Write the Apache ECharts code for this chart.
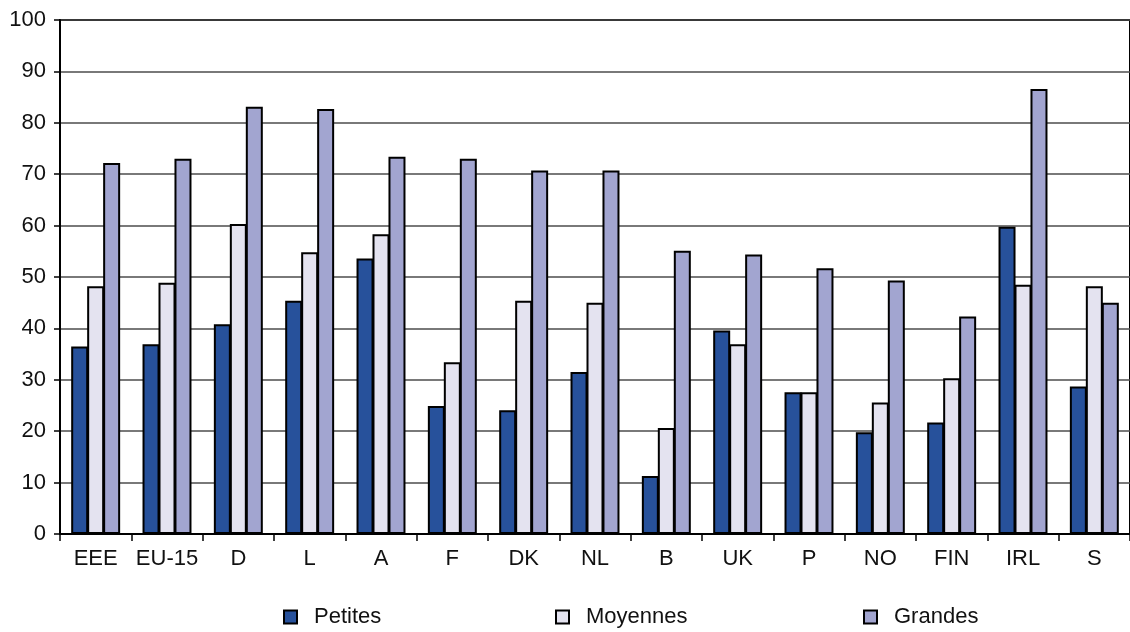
<!DOCTYPE html>
<html>
<head>
<meta charset="utf-8">
<script src="https://cdn.jsdelivr.net/npm/echarts@6/dist/echarts.min.js"></script>
<style>
  html, body { margin: 0; padding: 0; background: #fff; }
  #chart { width: 1130px; height: 632px; }
</style>
</head>
<body>
<div id="chart"></div>
<script>
// Countries / groups on the x axis
const categories = ['EEE', 'EU-15', 'D', 'L', 'A', 'F', 'DK', 'NL', 'B', 'UK', 'P', 'NO', 'FIN', 'IRL', 'S'];

// Share by enterprise size (%)
const petites  = [36.5, 36.9, 40.8, 45.4, 53.6, 24.9, 24.1, 31.5, 11.3, 39.6, 27.6, 19.8, 21.7, 59.8, 28.7];
const moyennes = [48.2, 48.9, 60.3, 54.8, 58.3, 33.4, 45.4, 45.0, 20.6, 36.9, 27.6, 25.6, 30.3, 48.5, 48.2];
const grandes  = [72.2, 73.0, 83.1, 82.7, 73.4, 73.0, 70.7, 70.7, 55.1, 54.4, 51.7, 49.3, 42.3, 86.6, 45.0];

const seriesNames = ['Petites', 'Moyennes', 'Grandes'];
const seriesColors = ['#27519b', '#e4e3f0', '#a2a5d0'];

const FONT = 'Liberation Sans, Arial, sans-serif';

const chart = echarts.init(document.getElementById('chart'), null, { renderer: 'canvas' });

function makeSeries(name, data, color) {
  return {
    name: name,
    type: 'bar',
    data: data,
    barWidth: 17,
    barGap: '-6%',
    barCategoryGap: '30%',
    itemStyle: { color: color, borderColor: '#000', borderWidth: 2 },
    emphasis: { disabled: true }
  };
}

function makeLegend(name, left) {
  return {
    data: [name],
    left: left,
    top: 606,
    padding: 0,
    itemWidth: 13,
    itemHeight: 13,
    icon: 'rect',
    selectedMode: false,
    textStyle: { fontFamily: FONT, fontSize: 22, color: '#111', padding: [0, 0, 0, 12] }
  };
}

chart.setOption({
  animation: false,
  backgroundColor: '#fff',
  grid: {
    left: 60, right: -4, top: 20, bottom: 98,
    show: true, borderColor: '#000', borderWidth: 2, backgroundColor: 'transparent'
  },
  legend: [
    makeLegend('Petites', 283),
    makeLegend('Moyennes', 555),
    makeLegend('Grandes', 863)
  ],
  xAxis: {
    type: 'category',
    data: categories,
    axisLine: { lineStyle: { color: '#000', width: 2 } },
    axisTick: { show: true, interval: 0, length: 7, lineStyle: { color: '#000', width: 1.5 } },
    axisLabel: { interval: 0, fontFamily: FONT, fontSize: 22, color: '#111', margin: 14 }
  },
  yAxis: {
    type: 'value',
    min: 0, max: 100, interval: 10,
    axisLine: { show: true, lineStyle: { color: '#000', width: 2 } },
    axisTick: { show: true, length: 6, lineStyle: { color: '#000', width: 1.5 } },
    axisLabel: { fontFamily: FONT, fontSize: 22, color: '#111', margin: 14 },
    splitLine: { show: true, lineStyle: { color: '#4d4d4d', width: 1.5 } }
  },
  series: [
    makeSeries(seriesNames[0], petites, seriesColors[0]),
    makeSeries(seriesNames[1], moyennes, seriesColors[1]),
    makeSeries(seriesNames[2], grandes, seriesColors[2])
  ]
});
</script>
</body>
</html>
